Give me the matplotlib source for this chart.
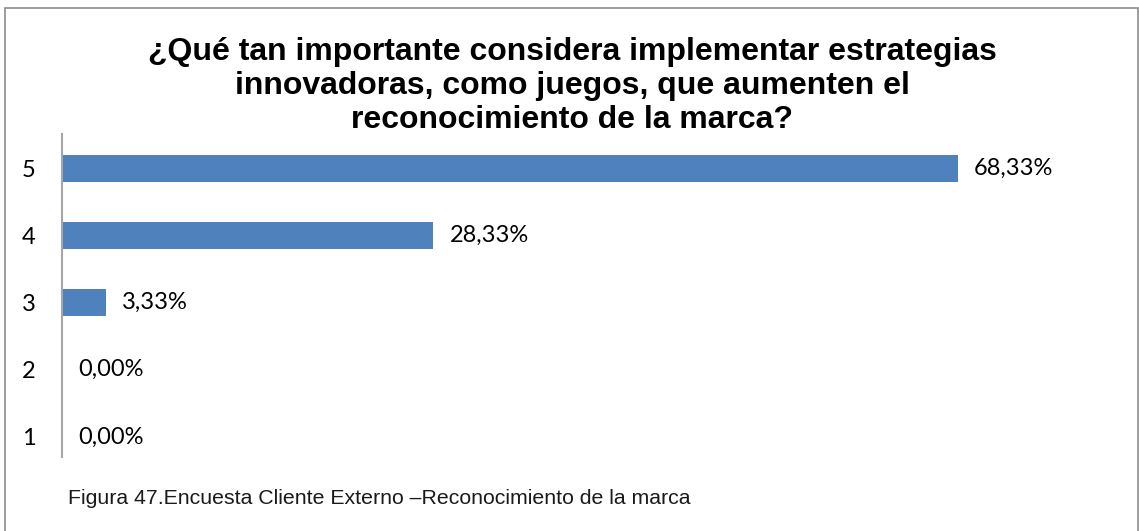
import matplotlib
matplotlib.use("Agg")
import matplotlib.pyplot as plt
from matplotlib.patches import Rectangle

categories = ["1", "2", "3", "4", "5"]
values = [0.00, 0.00, 3.33, 28.33, 68.33]
value_labels = ["0,00%", "0,00%", "3,33%", "28,33%", "68,33%"]
title = ("¿Qué tan importante considera implementar estrategias\n"
         "innovadoras, como juegos, que aumenten el\n"
         "reconocimiento de la marca?")
caption = "Figura 47.Encuesta Cliente Externo –Reconocimiento de la marca"

W, H = 1139, 531
fig = plt.figure(figsize=(W / 100, H / 100), dpi=100)
fig.patch.set_facecolor("white")

# outer chart frame
fig.add_artist(Rectangle((5 / W, -0.05), (1138 - 5) / W, (H - 8) / H + 0.05,
                         transform=fig.transFigure, fill=False,
                         edgecolor="#8c8c8c", linewidth=1.2))

ax_left, ax_right = 62, 1111
ax_top, ax_bottom = 134.5, 470.5
ax = fig.add_axes([ax_left / W, (H - ax_bottom) / H,
                   (ax_right - ax_left) / W, (ax_bottom - ax_top) / H])

y = list(range(len(categories)))
ax.barh(y, values, height=0.4, color="#4F81BD", edgecolor="none")
ax.set_xlim(0, 80)
ax.set_ylim(-0.5, 4.5)

label_font = "Lato"
for yi, v, lab in zip(y, values, value_labels):
    ax.annotate(lab, xy=(v, yi), xytext=(11.5, 0), textcoords="offset points",
                va="center", ha="left", fontsize=17, family=label_font,
                color="#000000")

ax.set_yticks(y)
ax.set_yticklabels(categories, fontsize=17, family=label_font)
ax.tick_params(axis="y", length=0, pad=19)
ax.set_xticks([])
for s in ("top", "right", "bottom"):
    ax.spines[s].set_visible(False)
ax.spines["left"].set_color("#a6a6a6")
ax.spines["left"].set_linewidth(1.5)
ax.spines["left"].set_bounds(-0.3, 4.5)

fig.text(572 / W, 1 - 86 / H, title, ha="center", va="center",
         fontsize=23, fontweight="bold", family="Liberation Sans",
         linespacing=1.17)

fig.text(68 / W, 1 - 498 / H, caption, ha="left", va="center",
         fontsize=15.3, family="Liberation Sans", color="#1a1a1a")

fig.savefig("out.png", dpi=100)
